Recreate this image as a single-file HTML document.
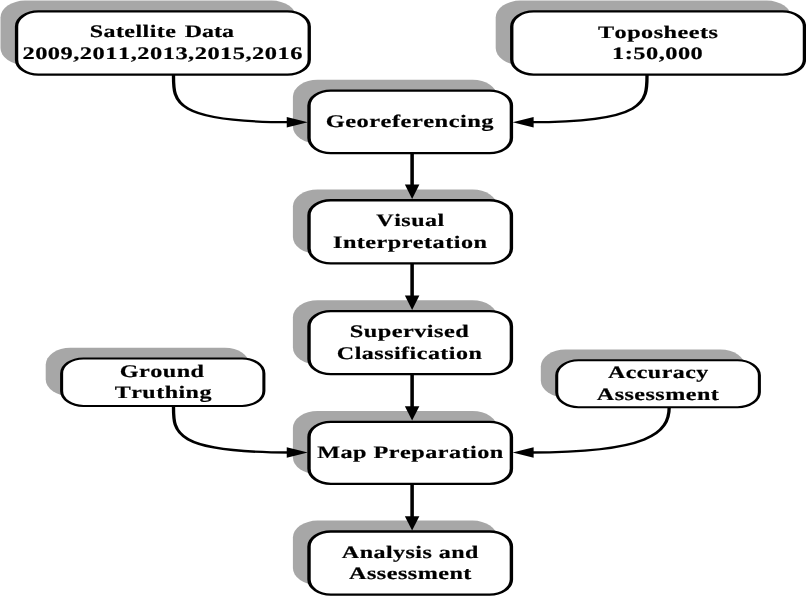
<!DOCTYPE html>
<html lang="en"><head><meta charset="utf-8"><title>Methodology flowchart</title>
<style>html,body{margin:0;padding:0;background:#fff;overflow:hidden}svg{display:block;filter:grayscale(1)}text{text-rendering:geometricPrecision;font-kerning:none;font-family:"Liberation Serif",serif;font-weight:bold;fill:#000;stroke:#000;stroke-width:.2px;stroke-linejoin:round;text-anchor:middle}</style></head><body>
<svg width="806" height="596" viewBox="0 0 806 596">
<rect width="806" height="596" fill="#fff"/>
<g transform="scale(1.45,1)">
<g fill="#a7a7a7">
<rect x="0.34" y="0.6" width="203.93" height="64.5" rx="17" ry="17"/>
<rect x="341.86" y="0.6" width="203.93" height="64.4" rx="17" ry="17"/>
<rect x="202" y="79.7" width="140.9" height="63.9" rx="17" ry="17"/>
<rect x="202" y="189.4" width="140.9" height="64.5" rx="17" ry="17"/>
<rect x="202" y="300.3" width="140.9" height="64.3" rx="17" ry="17"/>
<rect x="31.52" y="347.7" width="140.55" height="48.6" rx="17" ry="17"/>
<rect x="372.97" y="349.5" width="140.83" height="48.1" rx="17" ry="17"/>
<rect x="202" y="411" width="140.9" height="63.3" rx="17" ry="17"/>
<rect x="202" y="520.6" width="140.9" height="64.5" rx="17" ry="17"/>
</g>
<g fill="#fff" stroke="#000" stroke-width="2.35">
<rect x="11.43" y="11.45" width="201.84" height="63.2" rx="15" ry="15" stroke-width="2.3"/>
<rect x="352.94" y="11.45" width="201.84" height="63.1" rx="15" ry="15" stroke-width="2.3"/>
<rect x="213.11" y="90.57" width="139.58" height="62.55" rx="15" ry="15"/>
<rect x="213.11" y="200.28" width="139.58" height="63.15" rx="15" ry="15"/>
<rect x="213.11" y="311.18" width="139.58" height="62.95" rx="15" ry="15"/>
<rect x="42.5" y="358.45" width="139.49" height="47.5" rx="15" ry="15" stroke-width="2.1"/>
<rect x="383.95" y="360.25" width="139.76" height="47" rx="15" ry="15" stroke-width="2.1"/>
<rect x="213.11" y="421.88" width="139.58" height="61.95" rx="15" ry="15"/>
<rect x="213.11" y="531.47" width="139.58" height="63.15" rx="15" ry="15"/>
</g>
<g fill="none" stroke="#000" stroke-width="2.45">
<path d="M284.21 153 V186.9"/>
<path d="M284.21 263.5 V297.9"/>
<path d="M284.21 374 V408.6"/>
<path d="M284.21 483.5 V518.6"/>
<path stroke-width="2.3" d="M119.66 74.5 C119.66 100.5 117.93 122.2 200 122.2"/>
<path stroke-width="2.3" d="M446.21 74.5 C446.21 100.5 447.59 122.2 365.52 122.2"/>
<path stroke-width="2.3" d="M119.66 405.5 C119.66 431.5 117.93 452.5 200 452.5"/>
<path stroke-width="2.3" d="M461.52 407 C461.52 433 447.59 452.5 365.52 452.5"/>
</g>
<g fill="#000">
<path d="M284.21 198.9 L279.21 184.5 L289.21 184.5 Z"/>
<path d="M284.21 309.9 L279.21 295.5 L289.21 295.5 Z"/>
<path d="M284.21 420.6 L279.21 406.2 L289.21 406.2 Z"/>
<path d="M284.21 530.6 L279.21 516.2 L289.21 516.2 Z"/>
<path d="M212.28 122.2 L197.78 117 L197.78 127.4 Z"/>
<path d="M353.52 122.2 L368.02 117 L368.02 127.4 Z"/>
<path d="M212.28 452.5 L197.78 447.3 L197.78 457.7 Z"/>
<path d="M353.52 452.5 L368.02 447.3 L368.02 457.7 Z"/>
</g>
</g>
<g font-size="17.6" letter-spacing="0.352">
<text transform="translate(161.79 37.2) scale(1.3592 1)">Satellite <tspan dx="1.4" letter-spacing="0.0">Data</tspan></text>
<text transform="translate(162.67 59) scale(1.3887 1)">2009,2011,2013,2015,2016</text>
<text transform="translate(658.15 37.7) scale(1.3737 1)">Toposheets</text>
<text transform="translate(657.65 59) scale(1.3842 1)">1:50,000</text>
<text transform="translate(409.88 127.1) scale(1.3891 1)">Georeferencing</text>
<text transform="translate(410.47 226) scale(1.3667 1)">Visual</text>
<text transform="translate(410.2 247.6) scale(1.3733 1)">Interpretation</text>
<text transform="translate(409.5 337.1) scale(1.3815 1)">Supervised</text>
<text transform="translate(409.6 358.5) scale(1.3646 1)">Classification</text>
<text transform="translate(162.08 376.8) scale(1.3747 1)">Ground</text>
<text transform="translate(163.33 398.2) scale(1.3632 1)">Truthing</text>
<text transform="translate(658.31 377.8) scale(1.3603 1)">Accuracy</text>
<text transform="translate(658.03 399.6) scale(1.368 1)">Assessment</text>
<text transform="translate(410.5 457.8) scale(1.3743 1)">Map Preparation</text>
<text transform="translate(410.35 557.7) scale(1.3631 1)">Analysis and</text>
<text transform="translate(410.47 578.9) scale(1.3712 1)">Assessment</text>
</g>
</svg>
</body></html>
